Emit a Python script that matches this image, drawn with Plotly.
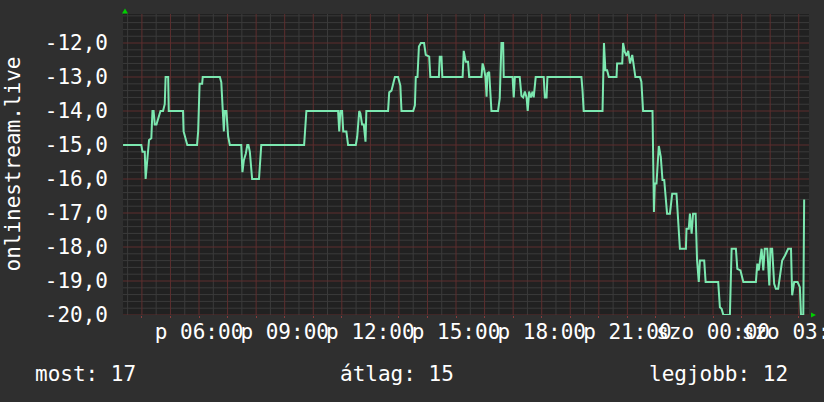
import plotly.graph_objects as go

# ---- data (hours since Friday 00:00, value) ----
hours = [3.34, 3.98, 4.02, 4.10, 4.13, 4.18, 4.25, 4.33, 4.37, 4.41, 4.45, 4.51, 4.54, 4.60, 4.65, 4.74,
         4.80, 4.83, 4.92, 4.94, 5.44, 5.46, 5.52, 5.59, 5.93, 5.97, 6.02, 6.11, 6.13, 6.73, 6.78, 6.82,
         6.87, 6.90, 6.96, 7.02, 7.08, 7.48, 7.52, 7.57, 7.64, 7.69, 7.73, 7.78, 7.86, 8.10, 8.13, 8.18,
         9.68, 9.70, 9.76, 10.87, 10.91, 10.95, 11.01, 11.05, 11.16, 11.22, 11.49, 11.54, 11.61, 11.65,
         11.71, 11.77, 11.83, 11.86, 12.62, 12.66, 12.74, 12.80, 12.86, 12.97, 13.05, 13.09, 13.50, 13.56,
         13.59, 13.65, 13.70, 13.77, 13.88, 13.94, 14.06, 14.10, 14.40, 14.43, 14.49, 14.52, 15.23, 15.27,
         15.34, 15.42, 15.46, 15.89, 15.93, 15.98, 16.03, 16.07, 16.10, 16.16, 16.21, 16.24, 16.47, 16.53,
         16.59, 16.65, 16.67, 16.98, 17.02, 17.06, 17.23, 17.29, 17.35, 17.41, 17.47, 17.51, 17.56, 17.62,
         17.68, 17.72, 17.79, 18.07, 18.11, 18.17, 18.20, 19.39, 19.43, 19.47, 20.13, 20.18, 20.23, 20.29,
         20.35, 20.62, 20.64, 20.82, 20.85, 20.91, 20.97, 21.03, 21.09, 21.17, 21.23, 21.28, 21.44, 21.49,
         21.55, 21.88, 21.93, 21.96, 22.02, 22.10, 22.17, 22.23, 22.29, 22.35, 22.39, 22.49, 22.57, 22.72,
         22.78, 22.84, 23.05, 23.07, 23.15, 23.19, 23.25, 23.30, 23.39, 23.44, 23.50, 23.54, 23.69, 23.74,
         24.18, 24.24, 24.30, 24.36, 24.59, 24.65, 24.80, 24.85, 24.96, 25.06, 25.50, 25.55, 25.60, 25.70,
         25.76, 25.81, 25.90, 25.97, 26.01, 26.07, 26.14, 26.20, 26.28, 26.34, 26.42, 26.52, 26.63, 26.73,
         26.77, 26.84, 26.96, 27.04, 27.08, 27.16, 27.19]
values = [-15.0, -15.0, -15.2, -15.2, -16.0, -15.6, -14.85, -14.8, -14.0, -14.0, -14.4, -14.4, -14.3, -14.1, -14.0, -14.0,
          -13.8, -13.0, -13.0, -14.0, -14.0, -14.6, -14.8, -15.0, -15.0, -14.6, -13.2, -13.2, -13.0, -13.0, -13.15, -14.0,
          -14.6, -14.0, -14.0, -14.75, -15.0, -15.0, -15.8, -15.45, -15.25, -15.0, -15.0, -15.2, -16.0, -16.0, -15.45, -15.0,
          -15.0, -14.66, -14.0, -14.0, -14.6, -14.0, -14.0, -14.6, -14.6, -15.0, -15.0, -14.75, -14.0, -14.07,
          -14.4, -14.4, -14.9, -14.0, -14.0, -13.45, -13.4, -13.2, -13.0, -13.0, -13.25, -14.0, -14.0, -13.83,
          -13.0, -13.0, -12.1, -12.0, -12.0, -12.35, -12.4, -13.0, -13.0, -12.4, -12.4, -13.0, -13.0, -12.23,
          -12.55, -12.55, -13.0, -13.0, -12.6, -12.75, -13.0, -13.58, -12.89, -12.85, -13.6, -14.0, -14.0, -13.63,
          -12.0, -12.0, -13.0, -13.0, -13.6, -13.0, -13.0, -13.55, -13.6, -13.43, -13.6, -14.0, -13.43, -13.6,
          -13.43, -13.6, -13.0, -13.0, -13.6, -13.6, -13.0, -13.0, -13.4, -14.0, -14.0, -12.0, -12.8, -12.8,
          -13.0, -13.0, -12.6, -12.6, -12.0, -12.26, -12.38, -12.23, -12.6, -12.35, -12.7, -13.0, -13.0, -13.14,
          -14.0, -14.0, -16.97, -16.13, -16.13, -15.03, -15.35, -16.03, -16.03, -16.63, -17.02, -17.02, -16.43, -16.43,
          -17.17, -18.05, -18.05, -17.46, -17.46, -17.02, -17.61, -17.02, -17.02, -18.39, -19.03, -18.4, -18.4, -19.03,
          -19.03, -19.77, -19.82, -20.0, -20.0, -18.05, -18.05, -18.64, -18.69, -19.03, -19.03, -18.49, -18.69, -18.05,
          -18.69, -18.05, -18.05, -19.13, -18.05, -18.05, -19.08, -19.23, -19.23, -18.88, -18.4, -18.25, -18.05, -18.05,
          -19.42, -19.03, -19.03, -19.18, -20.0, -20.0, -16.6]

x_tick_hours = [6, 9, 12, 15, 18, 21, 24, 27]
x_tick_labels = ["p 06:00", "p 09:00", "p 12:00", "p 15:00", "p 18:00", "p 21:00", "szo 00:00", "szo 03:00"]

y_tick_values = [-20, -19, -18, -17, -16, -15, -14, -13, -12]
y_tick_labels = ["-20,0", "-19,0", "-18,0", "-17,0", "-16,0", "-15,0", "-14,0", "-13,0", "-12,0"]

y_title = "onlinestream.live"
legend_texts = ["most: 17", "átlag: 15", "legjobb: 12"]

x_range = [3.338, 27.36]
y_range = [-20.0, -11.146]

# ---- styling ----
FONT = "DejaVu Sans Mono"
FS = 21
PAPER = "#2f2f2f"
PLOT = "#212121"
MAJOR = "#5e2e2e"
MINOR = "#3b3b3b"
LINE = "#7ce8b0"
ARROW = "#00d000"

# grid positions: major every hour / every unit, minor every half hour / 0.2 unit
x_major = list(range(4, 28))
x_minor = [h + 0.5 for h in range(3, 27)]
y_major = y_tick_values
y_minor = [round(-20 + 0.2 * i, 1) for i in range(45) if i % 5 != 0]

label_map = dict(zip(x_tick_hours, x_tick_labels))
x_ticktext = [label_map.get(h, "") for h in x_major]

fig = go.Figure()
fig.add_trace(go.Scatter(x=hours, y=values, mode="lines",
                         line=dict(color=LINE, width=2), hoverinfo="skip"))

fig.update_layout(
    template="none",
    width=824, height=402,
    margin=dict(l=123, r=15, t=14, b=87, pad=0),
    paper_bgcolor=PAPER, plot_bgcolor=PLOT,
    showlegend=False,
    font=dict(family=FONT, size=FS, color="white"),
    xaxis=dict(range=x_range, tickmode="array", tickvals=x_major, ticktext=x_ticktext,
               tickangle=0, ticklabeloverflow="allow", automargin=False, showgrid=False,
               ticks="outside", ticklen=2, tickcolor="#8a3c3c", ticklabelstandoff=-4,
               zeroline=False, showline=False,
               tickfont=dict(family=FONT, size=FS, color="white")),
    yaxis=dict(range=y_range, tickmode="array", tickvals=y_major, ticktext=y_tick_labels,
               automargin=False, showgrid=False,
               ticks="", ticklabelstandoff=14, zeroline=False, showline=False,
               tickfont=dict(family=FONT, size=FS, color="white")),
)

# grid lines (minor grey first, then major red), below the data line
for xv in x_minor:
    fig.add_shape(type="line", xref="x", yref="paper", x0=xv, x1=xv, y0=0, y1=1,
                  line=dict(color=MINOR, width=1), layer="below")
for yv in y_minor:
    fig.add_shape(type="line", xref="paper", yref="y", x0=0, x1=1, y0=yv, y1=yv,
                  line=dict(color=MINOR, width=1), layer="below")
for xv in x_major:
    fig.add_shape(type="line", xref="x", yref="paper", x0=xv, x1=xv, y0=0, y1=1,
                  line=dict(color=MAJOR, width=1), layer="below")
for yv in y_major:
    fig.add_shape(type="line", xref="paper", yref="y", x0=0, x1=1, y0=yv, y1=yv,
                  line=dict(color=MAJOR, width=1), layer="below")

# axis title and bottom legend texts
fig.add_annotation(text=y_title, xref="paper", yref="paper", x=(12 - 123) / 686, y=0.5,
                   xanchor="center", yanchor="middle", textangle=-90, showarrow=False,
                   font=dict(family=FONT, size=FS, color="white"))
legend_x_px = [33, 338, 647]
for txt, px in zip(legend_texts, legend_x_px):
    fig.add_annotation(text=txt, xref="paper", yref="paper", x=(px - 123) / 686,
                       y=(315 - 374) / 301, xanchor="left", yanchor="middle", showarrow=False,
                       font=dict(family=FONT, size=FS, color="white"))

# small green axis arrows (decorations)
def px2paper(px, py):
    return (px - 123) / 686, (315 - py) / 301

a = [px2paper(122, 13.5), px2paper(128, 13.5), px2paper(125, 8.5)]
b = [px2paper(811, 312.5), px2paper(811, 317.5), px2paper(816, 315)]
for tri in (a, b):
    path = "M {} {} L {} {} L {} {} Z".format(tri[0][0], tri[0][1], tri[1][0], tri[1][1], tri[2][0], tri[2][1])
    fig.add_shape(type="path", path=path, xref="paper", yref="paper",
                  fillcolor=ARROW, line=dict(width=0), layer="above")

fig.write_html("out.html", config={"displayModeBar": False},
               post_script="document.body.style.margin='0px';document.body.style.background='#2f2f2f';")
